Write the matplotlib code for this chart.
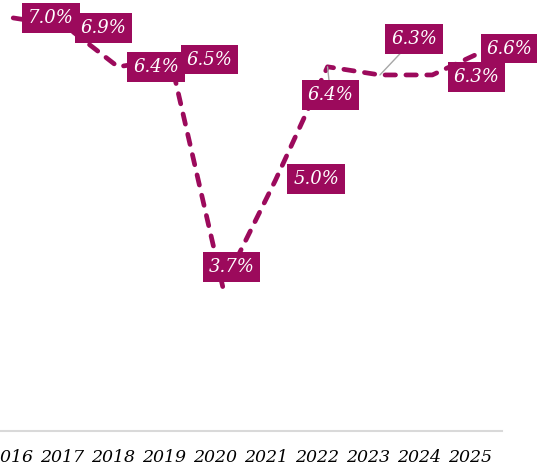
import matplotlib.pyplot as plt
import numpy as np

plt.rcParams["font.family"] = "DejaVu Serif"
plt.rcParams["font.style"] = "italic"
plt.rcParams["lines.scale_dashes"] = False

years = ["2016", "2017", "2018", "2019", "2020", "2021", "2022", "2023", "2024", "2025"]
rates = [7.0, 6.9, 6.4, 6.5, 3.7, 5.0, 6.4, 6.3, 6.3, 6.6]
labels = ["7.0%", "6.9%", "6.4%", "6.5%", "3.7%", "5.0%", "6.4%", "6.3%", "6.3%", "6.6%"]

# label offsets in pixels (box centre relative to point)
offsets = [(38, 0), (38, -2), (38, 0), (39, -1), (9, 20), (41, 2), (3, -28), (34, 36), (44, -2), (25, 2)]
leaders = [False, False, False, False, False, False, True, True, False, False]

color = "#9C0A5C"

fig = plt.figure(figsize=(5.37, 4.70), dpi=100)
ax = fig.add_axes([-13 / 537, 39 / 470, 515 / 537, 431 / 470])

x = np.arange(len(years))
ax.plot(x, rates, color=color, linewidth=3.4, dashes=(7.5, 7.5),
        dash_capstyle="round", solid_capstyle="round", zorder=2, clip_on=False)

for xi, yi, lab, off, lead in zip(x, rates, labels, offsets, leaders):
    arrow = None
    if lead:
        arrow = dict(arrowstyle="-", color="#a6a6a6", linewidth=1, shrinkA=0, shrinkB=0)
    ax.annotate(lab, xy=(xi, yi), xytext=off, textcoords="offset pixels",
                ha="center", va="center", fontsize=13, color="white",
                bbox=dict(boxstyle="square,pad=0.32", fc=color, ec="none"),
                arrowprops=arrow, zorder=5, annotation_clip=False)

ax.set_xlim(-0.5, 9.33)
ax.set_ylim(1.93, 7.22)

ax.set_xticks(x * 0.973 - 0.04)
ax.set_xticklabels(years, fontsize=12.5)
ax.set_yticks([])
ax.tick_params(axis="x", length=0, pad=13, colors="black")

for side in ["top", "right", "left"]:
    ax.spines[side].set_visible(False)
ax.spines["bottom"].set_color("#d9d9d9")
ax.spines["bottom"].set_linewidth(1.5)

ax.set_facecolor("white")
fig.set_facecolor("white")

plt.savefig("out.png", dpi=100, facecolor="white")
